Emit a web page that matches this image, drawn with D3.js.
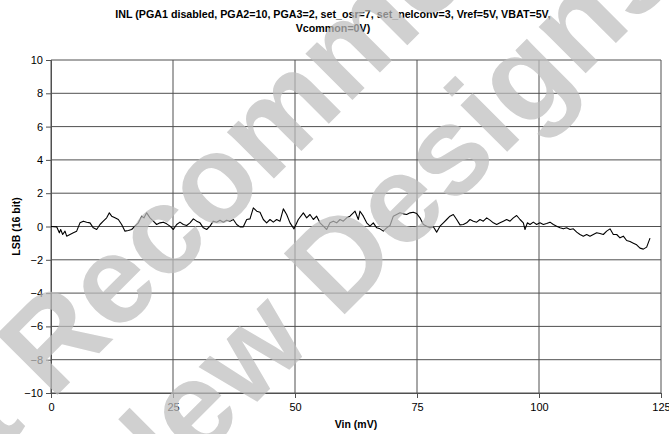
<!DOCTYPE html>
<html>
<head>
<meta charset="utf-8">
<script src="https://cdn.jsdelivr.net/npm/d3@7"></script>
<style>
  html, body { margin: 0; padding: 0; background: #fff; }
  svg { display: block; font-family: "Liberation Sans", Arial, sans-serif; }
</style>
</head>
<body>
<div id="chart"></div>
<script>
// ===== INL chart =====

const titleLines = [
  'INL (PGA1 disabled, PGA2=10, PGA3=2, set_osr=7, set_nelconv=3, Vref=5V, VBAT=5V,',
  'Vcommon=0V)'
];
const xLabel = 'Vin (mV)';
const yLabel = 'LSB (16 bit)';
const xTicks = [0, 25, 50, 75, 100, 125];
const yTicks = [-10, -8, -6, -4, -2, 0, 2, 4, 6, 8, 10];
const watermarkLines = ['Not Recommended', 'for New Designs'];

// Vin (mV) sample positions
const vin = [
  0, 1.16, 1.71, 1.98, 2.39, 2.87, 3.21, 3.89, 4.58, 5.26, 5.94, 6.63, 7.31, 7.99, 8.67, 9.36,
  10.04, 10.72, 11.41, 11.95, 12.43, 13.11, 13.8, 14.48, 15.16, 15.85, 16.53, 17.21, 17.9, 18.58,
  19.06, 19.6, 20.29, 20.97, 21.65, 22.34, 23.02, 23.7, 24.39, 25.07, 25.75, 26.43, 27.12, 27.8,
  28.48, 29.17, 29.85, 30.53, 31.22, 31.9, 32.58, 33.26, 33.95, 34.63, 35.31, 36.0, 36.68, 37.36,
  38.05, 38.73, 39.41, 40.1, 40.78, 41.46, 42.15, 42.83, 43.51, 44.19, 44.88, 45.56, 46.24, 46.93,
  47.61, 48.29, 48.98, 49.8, 50.68, 51.71, 52.39, 53.07, 53.76, 54.44, 55.12, 55.81, 56.49, 57.17,
  57.85, 58.54, 59.22, 59.9, 60.59, 61.27, 61.95, 62.3, 62.98, 63.32, 64.0, 64.69, 65.37, 66.05,
  66.74, 67.42, 68.1, 68.78, 69.47, 70.15, 70.83, 71.52, 72.2, 72.88, 73.57, 74.25, 74.93, 75.61,
  76.3, 76.98, 77.66, 78.35, 79.03, 79.71, 80.4, 81.08, 81.76, 82.44, 83.13, 83.81, 84.49, 85.18,
  85.86, 86.54, 87.23, 87.91, 88.59, 89.28, 89.96, 90.64, 91.33, 92.01, 92.69, 93.37, 94.06, 94.74,
  95.42, 96.11, 96.79, 97.13, 97.61, 98.16, 98.84, 99.52, 100.2, 100.89, 101.57, 102.25, 102.94,
  103.62, 104.3, 104.99, 105.67, 106.35, 107.04, 107.72, 108.4, 109.08, 109.77, 110.45, 111.13,
  111.82, 112.5, 113.18, 113.87, 114.55, 115.23, 115.92, 116.6, 117.28, 117.96, 118.65, 119.33,
  120.01, 120.7, 121.38, 122.06, 122.75
];

// INL (LSB) at each Vin
const inl = [
  0, -0.02, -0.38, -0.18, -0.48, -0.28, -0.58, -0.48, -0.38, -0.28, 0.22, 0.32, 0.26, 0.22, -0.08, -0.18,
  0.12, 0.32, 0.52, 0.82, 0.62, 0.52, 0.42, 0.12, -0.28, -0.24, -0.18, 0.02, 0.22, 0.62,
  0.52, 0.82, 0.52, 0.32, 0.12, 0.22, 0.26, 0.16, 0.02, -0.18, 0.12, 0.26, 0.12, 0.06,
  0.22, 0.46, 0.32, 0.22, -0.08, -0.18, 0.02, 0.32, 0.26, 0.38, 0.26, 0.38, 0.32, 0.42,
  0.12, -0.02, -0.02, 0.42, 0.46, 1.12, 0.92, 0.86, 0.42, 0.22, 0.42, 0.26, 0.42, 0.32,
  1.06, 0.72, 0.22, -0.14, 0.42, 0.82, 0.52, 0.72, 0.42, 0.62, 0.22, 0.02, -0.18, 0.22,
  0.32, 0.22, 0.42, 0.32, 0.52, 0.62, 0.82, 0.92, 0.42, 0.92, 0.62, 0.22, 0.02, 0.22,
  -0.08, -0.14, -0.28, -0.08, 0.06, 0.62, 0.72, 0.82, 0.76, 0.72, 0.82, 0.86, 0.78, 0.52,
  0.12, 0.02, -0.08, -0.02, -0.34, 0.02, 0.22, 0.42, 0.62, 0.72, 0.42, 0.1, 0.12, 0.22,
  0.42, 0.32, 0.26, 0.42, 0.32, 0.52, 0.38, 0.22, 0.12, 0.22, 0.32, 0.42, 0.32, 0.52,
  0.66, 0.42, 0.22, -0.18, 0.22, 0.12, 0.26, 0.12, 0.22, 0.12, 0.18, 0.26, 0.12,
  0.02, -0.08, -0.14, -0.08, -0.18, -0.14, -0.34, -0.48, -0.58, -0.48, -0.58, -0.48,
  -0.38, -0.42, -0.48, -0.28, -0.14, -0.48, -0.48, -0.68, -0.58, -0.84, -0.9, -1.0,
  -1.1, -1.3, -1.36, -1.24, -0.7
];

const W = 669, H = 434;
const plot = { left: 51, right: 661, top: 60, bottom: 393 };
const gridColor = '#505050';

const svg = d3.select('#chart')
  .append('svg')
  .attr('width', W)
  .attr('height', H);

const x = d3.scaleLinear().domain([0, 125]).range([plot.left, plot.right]);
const y = d3.scaleLinear().domain([-10, 10]).range([plot.bottom, plot.top]);

// title
svg.append('text')
  .attr('x', 333)
  .attr('text-anchor', 'middle')
  .attr('font-size', '10.7px')
  .attr('font-weight', 'bold')
  .selectAll('tspan')
  .data(titleLines)
  .join('tspan')
  .attr('x', 333)
  .attr('y', (d, i) => 18 + i * 14)
  .text(d => d);

// horizontal grid
svg.append('g')
  .selectAll('line')
  .data(yTicks)
  .join('line')
  .attr('x1', plot.left)
  .attr('x2', plot.right)
  .attr('y1', d => y(d))
  .attr('y2', d => y(d))
  .attr('stroke', gridColor)
  .attr('stroke-width', 1);

// vertical grid
svg.append('g')
  .selectAll('line')
  .data(xTicks)
  .join('line')
  .attr('x1', d => x(d))
  .attr('x2', d => x(d))
  .attr('y1', plot.top)
  .attr('y2', plot.bottom)
  .attr('stroke', gridColor)
  .attr('stroke-width', 1);

// axes
const xAxis = d3.axisBottom(x).tickValues(xTicks).tickSize(5).tickPadding(5);
const yAxis = d3.axisLeft(y).tickValues(yTicks).tickSize(5).tickPadding(3);

svg.append('g')
  .attr('transform', `translate(0, ${plot.bottom})`)
  .call(xAxis)
  .call(g => g.select('.domain').attr('stroke', gridColor))
  .call(g => g.selectAll('.tick line').attr('stroke', gridColor))
  .call(g => g.selectAll('text')
    .attr('font-size', '11px')
    .attr('font-family', '"Liberation Sans", Arial, sans-serif')
    .attr('fill', '#000'));

svg.append('g')
  .attr('transform', `translate(${plot.left}, 0)`)
  .call(yAxis)
  .call(g => g.select('.domain').attr('stroke', gridColor))
  .call(g => g.selectAll('.tick line').attr('stroke', gridColor))
  .call(g => g.selectAll('text')
    .attr('font-size', '11px')
    .attr('font-family', '"Liberation Sans", Arial, sans-serif')
    .attr('fill', '#000'));

// axis titles
svg.append('text')
  .attr('x', (plot.left + plot.right) / 2)
  .attr('y', 428)
  .attr('text-anchor', 'middle')
  .attr('font-size', '10.5px')
  .attr('font-weight', 'bold')
  .text(xLabel);

svg.append('text')
  .attr('transform', `translate(20, ${(plot.top + plot.bottom) / 2}) rotate(-90)`)
  .attr('text-anchor', 'middle')
  .attr('font-size', '10.5px')
  .attr('font-weight', 'bold')
  .text(yLabel);

// data line
const line = d3.line()
  .x((d, i) => x(vin[i]))
  .y(d => y(d));

svg.append('path')
  .datum(inl)
  .attr('d', line)
  .attr('fill', 'none')
  .attr('stroke', '#000')
  .attr('stroke-width', 1.1)
  .attr('stroke-linejoin', 'round');

// watermark on top of everything
const wm = svg.append('g')
  .attr('transform', 'rotate(-45)')
  .attr('font-size', '125px')
  .attr('font-weight', 'bold')
  .attr('fill', 'rgb(190,190,190)')
  .attr('opacity', 0.72);

wm.selectAll('text')
  .data(watermarkLines)
  .join('text')
  .attr('x', (d, i) => i === 0 ? -490 : -480)
  .attr('y', (d, i) => i === 0 ? 320 : 466)
  .text(d => d);
</script>
</body>
</html>
